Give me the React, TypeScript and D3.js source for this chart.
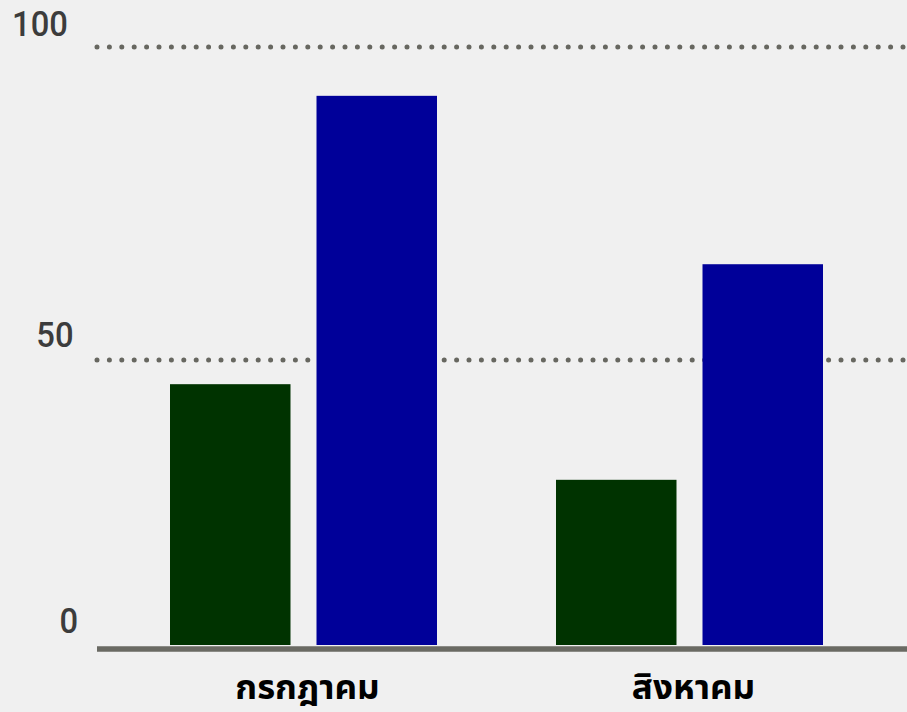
import React from "react";
import * as d3 from "d3";

const months = ["กรกฎาคม", "สิงหาคม"];
const seriesKeys = ["a", "b"];
const seriesA = [45.8, 29.2];
const seriesB = [92.2, 65.3];
const yTicks = [0, 50, 100];
const seriesColors = ["#003300", "#000099"];

const W = 907;
const H = 712;

export default function App() {
  const y = d3.scaleLinear().domain([0, 50, 100]).range([648, 360, 47]);
  const x0 = d3
    .scaleBand<string>()
    .domain(months)
    .range([110.5, 882.5])
    .paddingInner(0.3083)
    .paddingOuter(0.15415);
  const x1 = d3
    .scaleBand<string>()
    .domain(seriesKeys)
    .range([0, x0.bandwidth()])
    .paddingInner(0.1775);
  const values = [seriesA, seriesB];

  return (
    <div style={{ position: "fixed", left: 0, top: 0, width: W, height: H }}>
      <svg width={W} height={H} style={{ display: "block", background: "#f0f0f0" }}>
        <rect x={0} y={0} width={W} height={H} fill="#f0f0f0" />
        {yTicks.filter((t) => t !== 0).map((t) => (
          <line
            key={"g" + t}
            x1={97}
            x2={W + 10}
            y1={y(t)}
            y2={y(t)}
            stroke="#676760"
            strokeWidth={5}
            strokeLinecap="round"
            strokeDasharray="0 12.4"
          />
        ))}
        {yTicks.map((t) => {
          const yy = y(t);
          const cx = 40 + (yy - 47) * 0.0478;
          const off = 11 + (yy - 47) * 0.0067;
          return (
            <text
              key={"t" + t}
              transform={`translate(${cx},${yy - off}) scale(0.91,1)`}
              textAnchor="middle"
              fontFamily="Roboto, 'Liberation Sans', sans-serif"
              fontWeight={500}
              fontSize={36}
              fill="#3c3c3c"
            >
              {t}
            </text>
          );
        })}
        {months.map((m, i) => (
          <g key={m} transform={`translate(${x0(m)},0)`}>
            {seriesKeys.map((k, j) => (
              <rect
                key={k}
                x={x1(k)}
                y={y(values[j][i])}
                width={x1.bandwidth()}
                height={645 - y(values[j][i])}
                fill={seriesColors[j]}
              />
            ))}
          </g>
        ))}
        <line x1={97} x2={W} y1={649} y2={649} stroke="#6a6a63" strokeWidth={5.5} />
        {months.map((m) => (
          <text
            key={"l" + m}
            x={(x0(m) as number) + x0.bandwidth() / 2 + 4}
            y={699}
            textAnchor="middle"
            fontFamily="'Noto Sans Thai UI', 'Noto Sans Thai', 'Noto Sans', 'DejaVu Sans', sans-serif"
            fontWeight="bold"
            fontSize={35}
            fill="#000"
          >
            {m}
          </text>
        ))}
      </svg>
    </div>
  );
}
